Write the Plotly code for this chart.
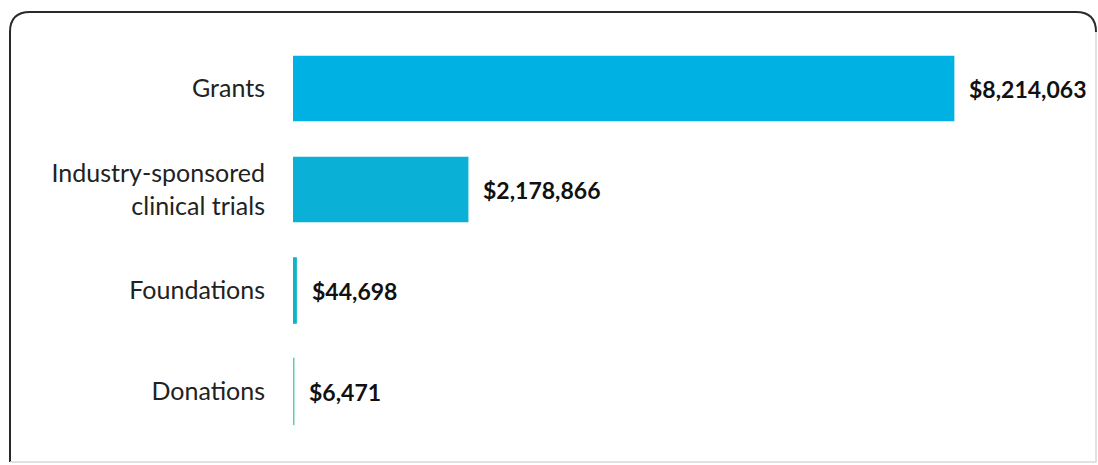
import plotly.graph_objects as go

# Research funding by source (USD)
categories = ["Grants", "Industry-sponsored<br>clinical trials", "Foundations", "Donations"]
amounts = [8214063, 2178866, 44698, 6471]
value_labels = ["$8,214,063", "$2,178,866", "$44,698", "$6,471"]
bar_colors = ["#00b2e3", "#0bb0d6", "#10b4c4", "#5fd0aa"]

W, H = 1098, 465
pl, pr, pt, pb = 293, 24, 38, 23

fig = go.Figure()
fig.add_trace(go.Bar(
    x=amounts,
    y=categories,
    orientation="h",
    marker=dict(color=bar_colors, line=dict(color=bar_colors, width=[0, 0, 0.8, 2])),
    hoverinfo="skip",
))

# Bold dollar labels just past the end of each bar
for cat, amt, lab in zip(categories, amounts, value_labels):
    fig.add_annotation(
        x=amt, y=cat, text=f"<b>{lab}</b>", showarrow=False,
        xanchor="left", xshift=13, font=dict(family="Lato", size=23, color="#111111"),
    )

fig.update_layout(
    width=W, height=H,
    margin=dict(l=pl, r=pr, t=pt, b=pb),
    paper_bgcolor="white", plot_bgcolor="white",
    bargap=0.35, showlegend=False,
    xaxis=dict(range=[0, 9.7e6], visible=False, fixedrange=True),
    yaxis=dict(
        categoryorder="array", categoryarray=categories[::-1],
        showgrid=False, showline=False, zeroline=False, ticks="",
        ticklabelstandoff=27,
        tickfont=dict(family="Lato", size=25, color="#222222"),
    ),
)

# Rounded frame around the chart, given in pixels and mapped to paper fractions
pw, ph = W - pl - pr, H - pt - pb
def px(x):
    return (x - pl) / pw
def py(y):
    return (H - pb - y) / ph

r = 20
x0, x1, y0, y1 = 10, 1096, 12, 462
fig.add_shape(
    type="path", xref="paper", yref="paper", layer="above",
    path=(f"M {px(x0)},{py(y1)} L {px(x0)},{py(y0 + r)} Q {px(x0)},{py(y0)} {px(x0 + r)},{py(y0)} "
          f"L {px(x1 - r)},{py(y0)} Q {px(x1)},{py(y0)} {px(x1)},{py(y0 + r)}"),
    line=dict(color="#2a2a2a", width=2),
)
fig.add_shape(
    type="path", xref="paper", yref="paper", layer="above",
    path=f"M {px(x1)},{py(y0 + r)} L {px(x1)},{py(y1)} L {px(x0)},{py(y1)}",
    line=dict(color="#d8d8d8", width=1.5),
)

fig.write_html("out.html")
